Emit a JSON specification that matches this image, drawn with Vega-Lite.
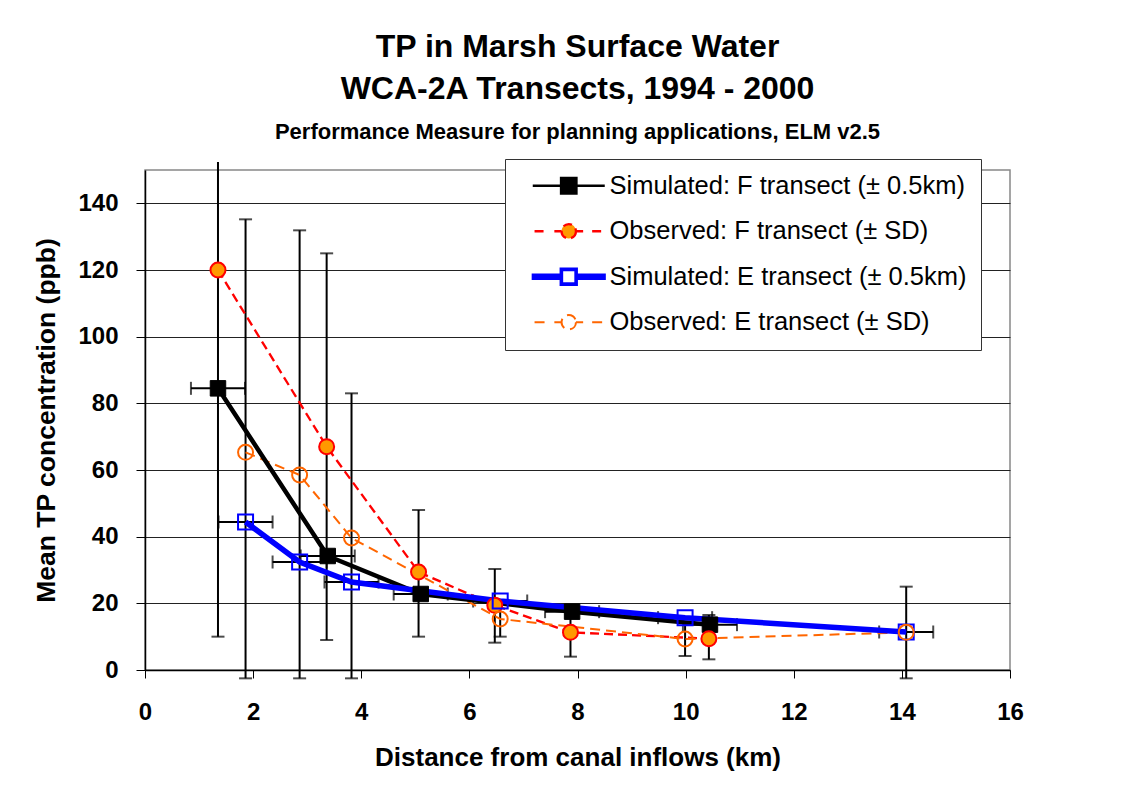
{
  "$schema": "https://vega.github.io/schema/vega-lite/v6.json",
  "width": 865,
  "height": 500,
  "autosize": {"type": "none"},
  "padding": {"left": 145, "top": 170, "right": 125, "bottom": 122},
  "background": "white",
  "config": {
    "font": "Liberation Sans",
    "view": {"stroke": "#888888", "strokeWidth": 1.5},
    "axis": {"labelColor": "black", "titleColor": "black", "labelFont": "Liberation Sans", "titleFont": "Liberation Sans", "labelFlush": false}
  },
  "title": {
    "text": ["TP in Marsh Surface Water", "WCA-2A Transects, 1994 - 2000"],
    "subtitle": "Performance Measure for planning applications, ELM v2.5",
    "font": "Liberation Sans",
    "fontSize": 32,
    "fontWeight": "bold",
    "color": "black",
    "lineHeight": 42,
    "subtitleFont": "Liberation Sans",
    "subtitleFontSize": 22,
    "subtitleFontWeight": "bold",
    "subtitleColor": "black",
    "subtitlePadding": 16,
    "anchor": "middle",
    "offset": 15
  },
  "data": {
    "values": [
      {"s": "Simulated: F transect (± 0.5km)", "x": 1.35, "y": 84.5, "xlo": 0.85, "xhi": 1.85},
      {"s": "Simulated: F transect (± 0.5km)", "x": 3.38, "y": 34.2, "xlo": 2.88, "xhi": 3.88},
      {"s": "Simulated: F transect (± 0.5km)", "x": 5.1, "y": 22.8, "xlo": 4.6, "xhi": 5.6},
      {"s": "Simulated: F transect (± 0.5km)", "x": 7.9, "y": 17.5, "xlo": 7.4, "xhi": 8.4},
      {"s": "Simulated: F transect (± 0.5km)", "x": 10.45, "y": 13.6, "xlo": 9.95, "xhi": 10.95},
      {"s": "Observed: F transect (± SD)", "x": 1.35, "y": 120, "ylo": 10, "yhi": 152.4},
      {"s": "Observed: F transect (± SD)", "x": 3.36, "y": 67, "ylo": 9, "yhi": 125},
      {"s": "Observed: F transect (± SD)", "x": 5.06, "y": 29.4, "ylo": 10, "yhi": 48},
      {"s": "Observed: F transect (± SD)", "x": 6.47, "y": 19.4, "ylo": 8.2, "yhi": 30.3},
      {"s": "Observed: F transect (± SD)", "x": 7.87, "y": 11.3, "ylo": 4, "yhi": 18.6},
      {"s": "Observed: F transect (± SD)", "x": 10.43, "y": 9.4, "ylo": 3.2, "yhi": 16.5},
      {"s": "Simulated: E transect (± 0.5km)", "x": 1.86, "y": 44.4, "xlo": 1.36, "xhi": 2.36},
      {"s": "Simulated: E transect (± 0.5km)", "x": 2.86, "y": 32.4, "xlo": 2.36, "xhi": 3.36},
      {"s": "Simulated: E transect (± 0.5km)", "x": 3.82, "y": 26.4, "xlo": 3.32, "xhi": 4.32},
      {"s": "Simulated: E transect (± 0.5km)", "x": 6.57, "y": 20.7, "xlo": 6.07, "xhi": 7.07},
      {"s": "Simulated: E transect (± 0.5km)", "x": 9.99, "y": 15.7, "xlo": 9.49, "xhi": 10.49},
      {"s": "Simulated: E transect (± 0.5km)", "x": 14.08, "y": 11.4, "xlo": 13.58, "xhi": 14.58},
      {"s": "Observed: E transect (± SD)", "x": 1.86, "y": 65.3, "ylo": -2.5, "yhi": 135.2},
      {"s": "Observed: E transect (± SD)", "x": 2.86, "y": 58.5, "ylo": -2.5, "yhi": 131.9},
      {"s": "Observed: E transect (± SD)", "x": 3.82, "y": 39.6, "ylo": -2.5, "yhi": 83},
      {"s": "Observed: E transect (± SD)", "x": 6.57, "y": 15.3, "ylo": 10, "yhi": 20.6},
      {"s": "Observed: E transect (± SD)", "x": 9.99, "y": 9.3, "ylo": 4.2, "yhi": 14.4},
      {"s": "Observed: E transect (± SD)", "x": 14.08, "y": 11.3, "ylo": -2.5, "yhi": 25}
    ]
  },
  "layer": [
    {
      "transform": [{"filter": "isValid(datum.ylo)"}],
      "mark": {"type": "rule", "color": "black", "strokeWidth": 2},
      "encoding": {
        "x": {"field": "x", "type": "quantitative", "scale": {"domain": [0, 16], "nice": false},
          "axis": {"values": [0, 2, 4, 6, 8, 10, 12, 14, 16], "grid": false, "domainColor": "black", "domainWidth": 1.5, "tickColor": "black", "tickSize": 8, "labelFontSize": 24, "labelFontWeight": "bold", "labelPadding": 22, "title": "Distance from canal inflows (km)", "titleFontSize": 26, "titleFontWeight": "bold", "titlePadding": 20}},
        "y": {"field": "ylo", "type": "quantitative", "scale": {"domain": [0, 150], "nice": false},
          "axis": {"values": [0, 20, 40, 60, 80, 100, 120, 140], "grid": true, "gridColor": "#222222", "gridWidth": 1, "domainColor": "black", "domainWidth": 1.5, "tickColor": "black", "tickSize": 9, "labelFontSize": 24, "labelFontWeight": "bold", "labelPadding": 18, "title": "Mean TP concentration (ppb)", "titleFontSize": 26.5, "titleFontWeight": "bold", "titlePadding": 17}},
        "y2": {"field": "yhi"}
      }
    },
    {
      "transform": [{"filter": "isValid(datum.ylo)"}],
      "mark": {"type": "tick", "orient": "horizontal", "color": "black", "size": 13, "thickness": 2},
      "encoding": {"x": {"field": "x", "type": "quantitative"}, "y": {"field": "ylo", "type": "quantitative"}}
    },
    {
      "transform": [{"filter": "isValid(datum.ylo) && datum.yhi < 150"}],
      "mark": {"type": "tick", "orient": "horizontal", "color": "black", "size": 13, "thickness": 2},
      "encoding": {"x": {"field": "x", "type": "quantitative"}, "y": {"field": "yhi", "type": "quantitative"}}
    },
    {
      "transform": [{"filter": "isValid(datum.xlo)"}],
      "mark": {"type": "rule", "color": "black", "strokeWidth": 2},
      "encoding": {"x": {"field": "xlo", "type": "quantitative"}, "x2": {"field": "xhi"}, "y": {"field": "y", "type": "quantitative"}}
    },
    {
      "transform": [{"filter": "isValid(datum.xlo)"}],
      "mark": {"type": "tick", "orient": "vertical", "color": "black", "size": 13, "thickness": 2},
      "encoding": {"x": {"field": "xlo", "type": "quantitative"}, "y": {"field": "y", "type": "quantitative"}}
    },
    {
      "transform": [{"filter": "isValid(datum.xlo)"}],
      "mark": {"type": "tick", "orient": "vertical", "color": "black", "size": 13, "thickness": 2},
      "encoding": {"x": {"field": "xhi", "type": "quantitative"}, "y": {"field": "y", "type": "quantitative"}}
    },
    {
      "mark": {"type": "line", "interpolate": "linear"},
      "encoding": {
        "x": {"field": "x", "type": "quantitative"},
        "y": {"field": "y", "type": "quantitative"},
        "color": {
          "field": "s", "type": "nominal",
          "scale": {"domain": ["Simulated: F transect (± 0.5km)", "Observed: F transect (± SD)", "Simulated: E transect (± 0.5km)", "Observed: E transect (± SD)"], "range": ["#000000", "#FF0000", "#0000FF", "#FF6600"]},
          "legend": {
            "title": null,
            "orient": "none",
            "legendX": 360,
            "legendY": -11,
            "direction": "vertical",
            "labelFont": "Liberation Sans",
            "labelFontSize": 25.5,
            "labelColor": "black",
            "labelLimit": 600,
            "labelExpr": "datum.label + '\u00a0'",
            "symbolSize": 324,
            "symbolType": "circle",
            "padding": 14,
            "rowPadding": 18.5,
            "symbolOffset": 37,
            "labelOffset": 28,
            "fillColor": "white",
            "strokeColor": "#333333",
            "encode": {
              "symbols": {
                "update": {
                  "shape": {"signal": "['M-4,0H4M-0.85,-0.85H0.85V0.85H-0.85Z', 'M-3.8,0H-2.6M-1.6,0H-0.8M0.8,0H1.6M2.6,0H3.8M0.8,0A0.8,0.8 0 1,1 -0.8,0A0.8,0.8 0 1,1 0.8,0', 'M-4,-0.25H-0.9V0.25H-4ZM0.9,-0.25H4V0.25H0.9ZM-0.9,-0.9H0.9V0.9H-0.9ZM-0.74,-0.74V0.74H0.74V-0.74Z', 'M-3.8,0H-2.6M-1.6,0H-0.8M0.8,0H1.6M2.6,0H3.8M0.8,0A0.8,0.8 0 1,1 -0.8,0A0.8,0.8 0 1,1 0.8,0'][datum.index]"},
                  "fill": {"signal": "['#000000', '#FF9900', '#0000FF', '#FFFFFF'][datum.index]"},
                  "stroke": {"signal": "['#000000', '#FF0000', '#0000FF', '#FF6600'][datum.index]"},
                  "strokeWidth": {"signal": "[3.5, 2, 1, 2][datum.index]"},
                  "strokeDash": {"value": [1, 0]},
                  "opacity": {"value": 1},
                  "fillOpacity": {"value": 1},
                  "strokeOpacity": {"value": 1}
                }
              }
            }
          }
        },
        "strokeDash": {
          "field": "s", "type": "nominal", "legend": null,
          "scale": {"domain": ["Simulated: F transect (± 0.5km)", "Observed: F transect (± SD)", "Simulated: E transect (± 0.5km)", "Observed: E transect (± SD)"], "range": [[1, 0], [9, 5], [1, 0], [10, 6]]}
        },
        "strokeWidth": {
          "field": "s", "type": "nominal", "legend": null,
          "scale": {"domain": ["Simulated: F transect (± 0.5km)", "Observed: F transect (± SD)", "Simulated: E transect (± 0.5km)", "Observed: E transect (± SD)"], "range": [2.5, 2]}
        },
        "order": {"field": "x", "type": "quantitative"}
      }
    },
    {
      "transform": [{"filter": "datum.s === 'Simulated: F transect (± 0.5km)'"}],
      "mark": {"type": "line", "interpolate": "linear", "strokeWidth": 4.5, "color": "#000000"},
      "encoding": {"x": {"field": "x", "type": "quantitative"}, "y": {"field": "y", "type": "quantitative"}, "order": {"field": "x", "type": "quantitative"}}
    },
    {
      "transform": [{"filter": "datum.s === 'Simulated: E transect (± 0.5km)'"}],
      "mark": {"type": "line", "interpolate": "linear", "strokeWidth": 5.5, "color": "#0000FF"},
      "encoding": {"x": {"field": "x", "type": "quantitative"}, "y": {"field": "y", "type": "quantitative"}, "order": {"field": "x", "type": "quantitative"}}
    },
    {
      "transform": [{"filter": "datum.s === 'Simulated: F transect (± 0.5km)'"}],
      "mark": {"type": "point", "shape": "square", "filled": true, "fill": "black", "stroke": "black", "strokeWidth": 1, "size": 240, "opacity": 1},
      "encoding": {"x": {"field": "x", "type": "quantitative"}, "y": {"field": "y", "type": "quantitative"}}
    },
    {
      "transform": [{"filter": "datum.s === 'Observed: F transect (± SD)'"}],
      "mark": {"type": "point", "shape": "circle", "filled": true, "fill": "#FF9900", "stroke": "#FF0000", "strokeWidth": 2, "size": 225, "opacity": 1},
      "encoding": {"x": {"field": "x", "type": "quantitative"}, "y": {"field": "y", "type": "quantitative"}}
    },
    {
      "transform": [{"filter": "datum.s === 'Simulated: E transect (± 0.5km)'"}],
      "mark": {"type": "point", "shape": "square", "filled": false, "fill": "none", "stroke": "#0000FF", "strokeWidth": 2, "size": 225, "opacity": 1},
      "encoding": {"x": {"field": "x", "type": "quantitative"}, "y": {"field": "y", "type": "quantitative"}}
    },
    {
      "transform": [{"filter": "datum.s === 'Observed: E transect (± SD)'"}],
      "mark": {"type": "point", "shape": "circle", "filled": false, "stroke": "#FF6600", "strokeWidth": 2, "size": 225, "opacity": 1},
      "encoding": {"x": {"field": "x", "type": "quantitative"}, "y": {"field": "y", "type": "quantitative"}}
    }
  ]
}
